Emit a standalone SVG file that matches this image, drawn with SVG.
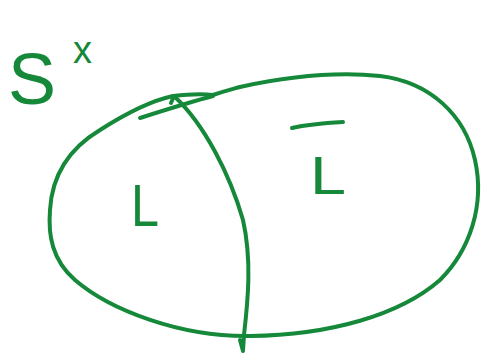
<svg xmlns="http://www.w3.org/2000/svg" width="486" height="354" viewBox="0 0 486 354">
<style>
.s{fill:none;stroke:#15883a;stroke-width:4;stroke-linecap:round;stroke-linejoin:round}
.t{fill:#15883a;font-family:"Liberation Sans",Arial,sans-serif}
</style>
<rect width="486" height="354" fill="#fff"/>
<g id="region">
<path class="s" d="M240,87 C290,76 340,72 380,76 C430,82 465,115 475,160 C485,205 470,250 440,280 C400,315 330,335 250,336 C180,337 110,310 75,280 C52,260 48,235 50,210 C52,175 70,148 100,130 C125,114 150,101 173,96 C190,94 205,94 213,95 C225,91 233,89 240,87 Z"/>
</g>
<g id="connectors">
<path class="s" d="M140,118 C165,110 190,102 213,96"/>
<path class="s" d="M171,103 L174,96 C205,125 230,175 243,220 C252,260 248,300 244,335 L243,350 M240,340 L243,351"/>
</g>
<g id="label-S">
<text class="t" x="8" y="104" font-size="72">S</text>
<text class="t" x="73" y="63" font-size="38">x</text>
</g>
<g id="label-L">
<text class="t" x="131" y="226" font-size="60" textLength="28" lengthAdjust="spacingAndGlyphs">L</text>
</g>
<g id="label-Lbar">
<path class="s" d="M292,128 C305,125 325,123 343,122"/>
<text class="t" x="310" y="194" font-size="54" textLength="36" lengthAdjust="spacingAndGlyphs">L</text>
</g>
</svg>
